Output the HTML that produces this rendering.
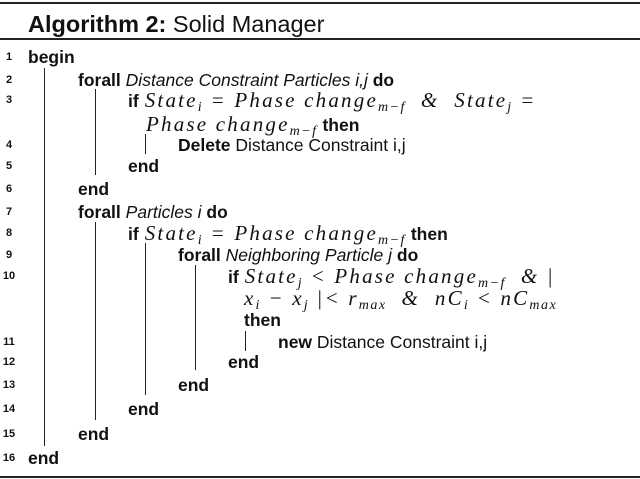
<!DOCTYPE html>
<html><head><meta charset="utf-8"><style>
body{margin:0;width:640px;height:479px;background:#fff;position:relative;overflow:hidden;font-family:"Liberation Sans",sans-serif;color:#111}
.r{position:absolute;left:0;width:640px;background:#222}
.l{position:absolute;font-size:17.5px;line-height:18px;white-space:nowrap}
.n{position:absolute;left:0;width:18px;text-align:center;font-size:11px;font-weight:bold;line-height:18px}
.m{font-family:"Liberation Serif",serif;font-style:italic;font-size:21px;letter-spacing:2.2px}
.g{margin-left:6px}
sub{font-family:"Liberation Serif",serif;font-style:italic;font-size:14px;vertical-align:-4px;line-height:0;letter-spacing:1.5px}
.v{position:absolute;width:1.3px;background:#222}
b{font-weight:bold}
</style></head><body>
<div class="r" style="top:2px;height:2px"></div>
<div class="l" style="left:28px;top:11px;font-size:23.5px;line-height:26px"><b>Algorithm 2:</b> Solid Manager</div>
<div class="r" style="top:38px;height:1.5px"></div>
<div class="r" style="top:476px;height:1.5px"></div>

<div class="n" style="top:48px">1</div><div class="l" style="left:28px;top:48px"><b>begin</b></div>
<div class="n" style="top:71px">2</div><div class="l" style="left:78px;top:71px"><b>forall</b> <i>Distance Constraint Particles i,j</i> <b>do</b></div>
<div class="n" style="top:91px">3</div><div class="l" style="left:128px;top:91px"><b>if</b><span class="m g">State<sub>i</sub> = Phase change<sub>m−f</sub> &nbsp;&amp;&nbsp; State<sub>j</sub> =</span></div>
<div class="l" style="left:146px;top:115px"><span class="m">Phase change<sub>m−f</sub></span> <b>then</b></div>
<div class="n" style="top:136px">4</div><div class="l" style="left:178px;top:136px"><b>Delete</b> Distance Constraint i,j</div>
<div class="n" style="top:157px">5</div><div class="l" style="left:128px;top:157px"><b>end</b></div>
<div class="n" style="top:180px">6</div><div class="l" style="left:78px;top:180px"><b>end</b></div>
<div class="n" style="top:203px">7</div><div class="l" style="left:78px;top:203px"><b>forall</b> <i>Particles i</i> <b>do</b></div>
<div class="n" style="top:224px">8</div><div class="l" style="left:128px;top:224px"><b>if</b><span class="m g">State<sub>i</sub> = Phase change<sub>m−f</sub></span> <b>then</b></div>
<div class="n" style="top:246px">9</div><div class="l" style="left:178px;top:246px"><b>forall</b> <i>Neighboring Particle j</i> <b>do</b></div>
<div class="n" style="top:267px">10</div><div class="l" style="left:228px;top:267px"><b>if</b><span class="m g">State<sub>j</sub> &lt; Phase change<sub>m−f</sub> &nbsp;&amp; |</span></div>
<div class="l" style="left:244px;top:289px"><span class="m">x<sub>i</sub> − x<sub>j</sub> |&lt; r<sub>max</sub> &nbsp;&amp;&nbsp; nC<sub>i</sub> &lt; nC<sub>max</sub></span></div>
<div class="l" style="left:244px;top:311px"><b>then</b></div>
<div class="n" style="top:333px">11</div><div class="l" style="left:278px;top:333px"><b>new</b> Distance Constraint i,j</div>
<div class="n" style="top:353px">12</div><div class="l" style="left:228px;top:353px"><b>end</b></div>
<div class="n" style="top:376px">13</div><div class="l" style="left:178px;top:376px"><b>end</b></div>
<div class="n" style="top:400px">14</div><div class="l" style="left:128px;top:400px"><b>end</b></div>
<div class="n" style="top:425px">15</div><div class="l" style="left:78px;top:425px"><b>end</b></div>
<div class="n" style="top:449px">16</div><div class="l" style="left:28px;top:449px"><b>end</b></div>

<div class="v" style="left:44px;top:68px;height:378px"></div>
<div class="v" style="left:95px;top:89px;height:86px"></div>
<div class="v" style="left:145px;top:134px;height:20px"></div>
<div class="v" style="left:95px;top:222px;height:198px"></div>
<div class="v" style="left:145px;top:243px;height:152px"></div>
<div class="v" style="left:195px;top:265px;height:105px"></div>
<div class="v" style="left:245px;top:331px;height:20px"></div>
</body></html>
